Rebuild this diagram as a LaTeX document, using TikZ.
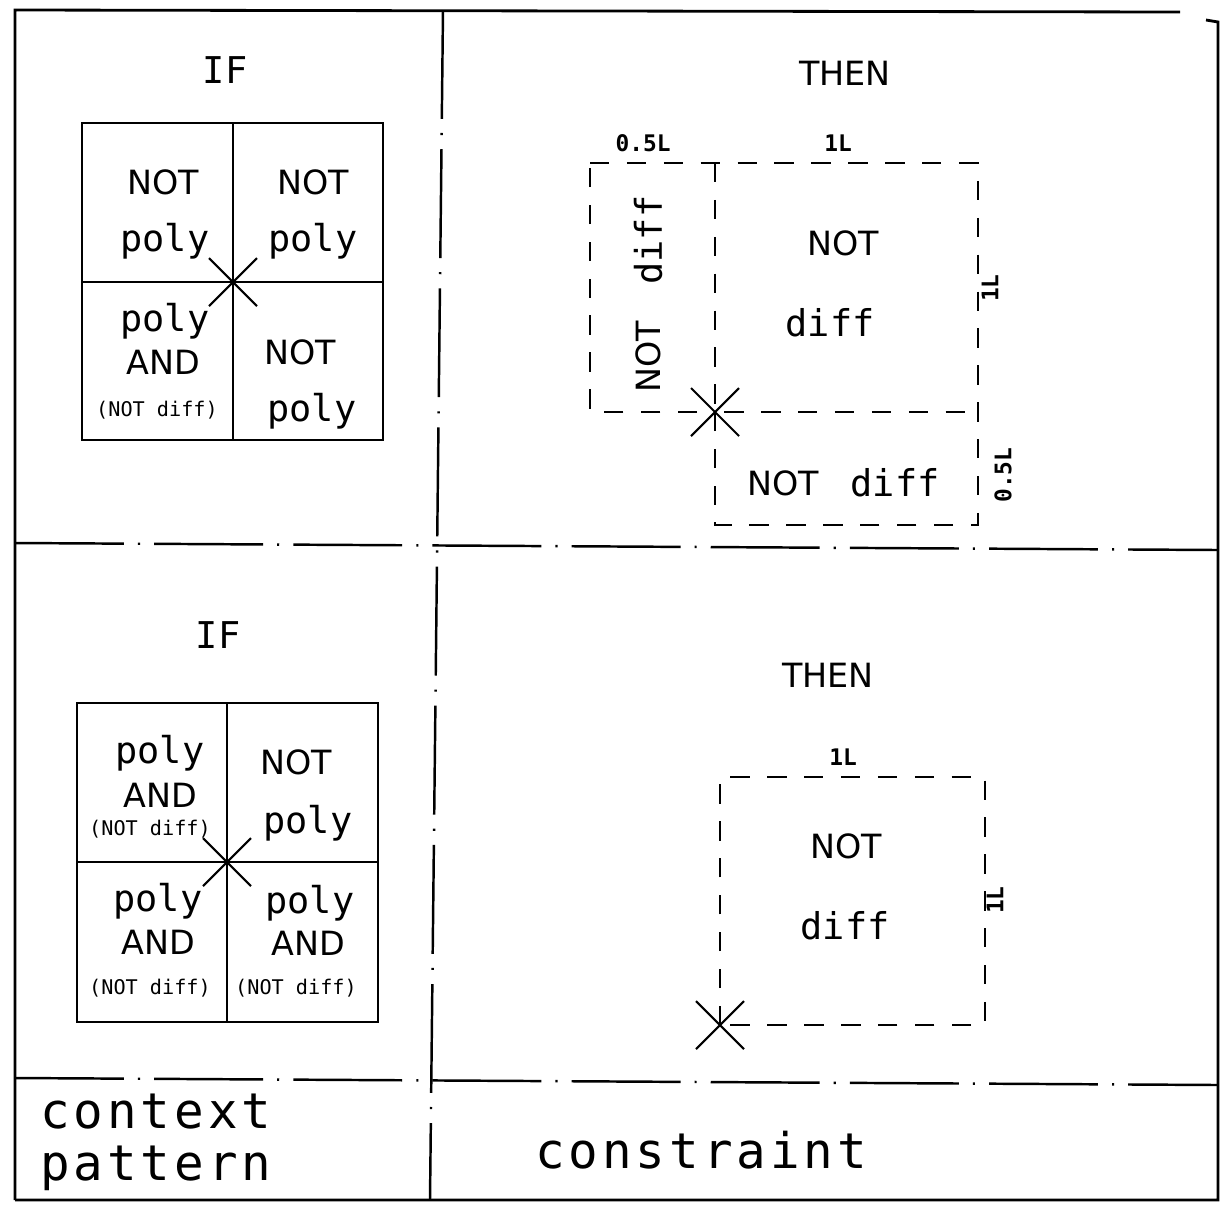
\documentclass[tikz,border=0pt]{standalone}
\usepackage{fontspec}
\setmainfont{DejaVu Sans}
\newfontfamily\plotfont{DejaVu Sans Mono}
\newfontfamily\plotwide[LetterSpace=8]{DejaVu Sans Mono}
\tikzset{
  caps/.style={font=\fontsize{19}{22}\selectfont, inner sep=0pt},
  low/.style={font=\plotfont\fontsize{21}{24}\selectfont, inner sep=0pt},
  tiny/.style={font=\plotfont\fontsize{11.5}{13}\selectfont, inner sep=0pt},
  dim/.style={font=\plotfont\bfseries\fontsize{13}{15}\selectfont, inner sep=0pt},
  big/.style={font=\plotwide\fontsize{28}{30}\selectfont, inner sep=0pt, anchor=base west},
  cell/.style={line width=1.6pt},
  zone/.style={dash pattern=on 11pt off 10pt, line width=1.5pt},
  divider/.style={dash pattern=on 62pt off 8pt on 1.2pt off 8pt, line width=1.4pt},
  framing/.style={line width=1.6pt},
  crossmark/.style={line width=1.2pt},
}
\newcommand{\crossat}[1]{\draw[crossmark] (#1) ++(-24,-24) -- ++(48,48) (#1) ++(-24,24) -- ++(48,-48);}
\begin{document}
\begin{tikzpicture}[x=0.02cm,y=-0.02cm]
\useasboundingbox (0,0) rectangle (1224,1205);
% frame and dividers
\draw[framing] (15,1200) -- (15,10) -- (1180,12);
\draw[framing] (1206,20) -- (1218,22) -- (1218,1200) -- (15,1200);
\draw[divider] (443,10) -- (430,1200);
\draw[divider] (15,543) -- (1218,550);
\draw[divider] (15,1078) -- (1218,1085);

% upper context pattern
\node[low] (if1) at (225,70) {IF};
\coordinate (g1a) at (82,123);
\coordinate (g1b) at (383,440);
\coordinate (x1) at (233,282);
\draw[cell] (g1a) rectangle (g1b);
\draw[cell] (x1 |- g1a) -- (x1 |- g1b) (x1 -| g1a) -- (x1 -| g1b);
\crossat{x1}
\node[caps] (n11) at (163,182) {NOT};
\node[low] (p11) at (165,241) {poly};
\node[caps] (n12) at (313,182) {NOT};
\node[low] (p12) at (313,241) {poly};
\node[low] (p13) at (165,321) {poly};
\node[caps] (a13) at (163,362) {AND};
\node[tiny] (d13) at (157,410) {(NOT diff)};
\node[caps] (n14) at (300,352) {NOT};
\node[low] (p14) at (312,411) {poly};

% upper constraint
\node[caps] (then1) at (845,73) {THEN};
\coordinate (x2) at (715,412);
\draw[zone] (590,163) -- (978,163) -- (978,525) -- (715,525) -- (715,412) -- (590,412) -- cycle;
\draw[zone] (715,163) -- (x2) -- (978,412);
\crossat{x2}
\node[dim] (w05) at (643,143) {0.5L};
\node[dim] (w1) at (838,143) {1L};
\node[dim,rotate=90] (h1) at (990,288) {1L};
\node[dim,rotate=90] (h05) at (1003,475) {0.5L};
\node[caps,rotate=90] (n21) at (648,357) {NOT};
\node[low,rotate=90] (d21) at (648,240) {diff};
\node[caps] (n22) at (843,243) {NOT};
\node[low] (d22) at (830,323) {diff};
\node[caps] (n23) at (783,483) {NOT};
\node[low] (d23) at (895,483) {diff};

% lower context pattern
\node[low] (if2) at (218,635) {IF};
\coordinate (g2a) at (77,703);
\coordinate (g2b) at (378,1022);
\coordinate (x3) at (227,862);
\draw[cell] (g2a) rectangle (g2b);
\draw[cell] (x3 |- g2a) -- (x3 |- g2b) (x3 -| g2a) -- (x3 -| g2b);
\crossat{x3}
\node[low] (p31) at (160,753) {poly};
\node[caps] (a31) at (160,795) {AND};
\node[tiny] (d31) at (150,829) {(NOT diff)};
\node[caps] (n32) at (296,762) {NOT};
\node[low] (p32) at (308,823) {poly};
\node[low] (p33) at (158,901) {poly};
\node[caps] (a33) at (158,942) {AND};
\node[tiny] (d33) at (150,988) {(NOT diff)};
\node[low] (p34) at (310,903) {poly};
\node[caps] (a34) at (308,943) {AND};
\node[tiny] (d34) at (296,988) {(NOT diff)};

% lower constraint
\node[caps] (then2) at (828,675) {THEN};
\coordinate (x4) at (720,1025);
\draw[zone] (x4) -- (720,777) -- (985,777) -- (985,1025) -- cycle;
\crossat{x4}
\node[dim] (w2) at (843,757) {1L};
\node[dim,rotate=90] (h2) at (995,900) {1L};
\node[caps] (n41) at (846,846) {NOT};
\node[low] (d41) at (845,926) {diff};

% captions
\node[big] (ctx1) at (40,1128) {context};
\node[big] (ctx2) at (40,1180) {pattern};
\node[big] (cons) at (535,1168) {constraint};
\end{tikzpicture}
\end{document}
